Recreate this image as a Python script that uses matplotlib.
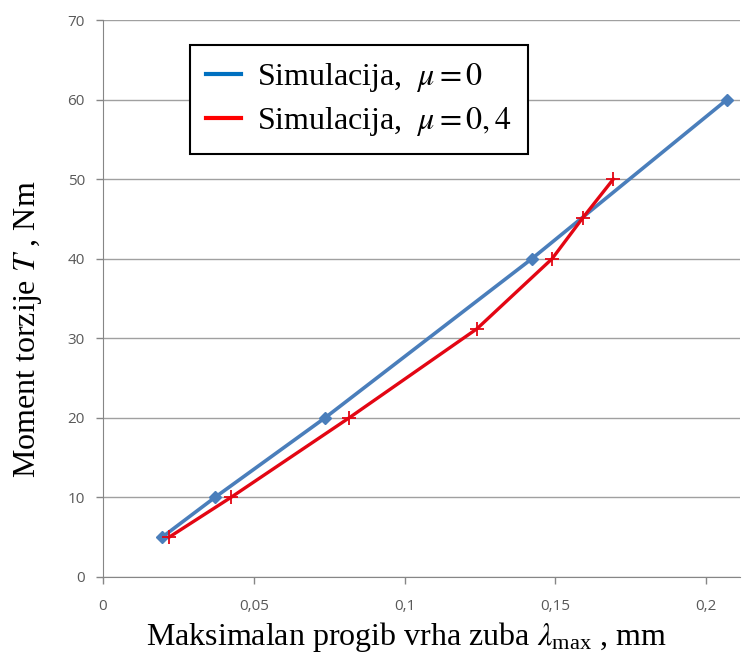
import matplotlib.pyplot as plt
from matplotlib.lines import Line2D

plt.rcParams['mathtext.fontset'] = 'stix'

# Simulacija, mu = 0
x_mu0 = [0.0196, 0.0371, 0.0736, 0.1422, 0.2069]
t_mu0 = [5, 10, 20, 40, 60]

# Simulacija, mu = 0,4
x_mu04 = [0.0219, 0.0424, 0.0816, 0.1240, 0.1489, 0.1590, 0.1692]
t_mu04 = [5, 10, 20, 31.2, 40, 45.1, 50]

x_ticks = [0, 0.05, 0.1, 0.15, 0.2]
x_labels = ["0", "0,05", "0,1", "0,15", "0,2"]
y_ticks = [0, 10, 20, 30, 40, 50, 60, 70]

fig = plt.figure(figsize=(7.44, 6.54), dpi=100)
ax = fig.add_axes([103 / 744, 1 - 577 / 654, (740 - 103) / 744, (577 - 20) / 654])

ax.plot(x_mu0, t_mu0, color="#4A7EBB", linewidth=2.6, marker="D", markersize=6.5, zorder=3)
ax.plot(x_mu04, t_mu04, color="#E30613", linewidth=2.4, marker="+", markersize=10,
        markeredgewidth=1.3, zorder=4)

ax.set_xlim(0, 0.2112)
ax.set_ylim(0, 70)
ax.set_xticks(x_ticks)
ax.set_xticklabels(x_labels)
ax.set_yticks(y_ticks)
ax.yaxis.grid(True, color="#A0A0A0", linewidth=1)
ax.set_axisbelow(True)

for s in ["top", "right"]:
    ax.spines[s].set_visible(False)
for s in ["left", "bottom"]:
    ax.spines[s].set_color("#868686")
ax.tick_params(axis="both", colors="#868686", labelcolor="#595959", labelsize=11,
               length=5, width=1)
ax.tick_params(axis="x", pad=11)
ax.tick_params(axis="y", pad=8)
for lab in ax.get_xticklabels() + ax.get_yticklabels():
    lab.set_family("Open Sans")

ax.set_xlabel(r"Maksimalan progib vrha zuba $\lambda_{\mathregular{max}}$ , mm",
              family="Liberation Serif", fontsize=23)
ax.set_ylabel(r"Moment torzije $T$ , Nm", family="Liberation Serif", fontsize=23)
ax.xaxis.set_label_coords(0.477, -0.078)
ax.yaxis.set_label_coords(-0.093, 0.445)

handles = [Line2D([], [], color="#0070C0", linewidth=3),
           Line2D([], [], color="#FF0000", linewidth=3)]
leg = ax.legend(handles, [r"Simulacija,  $\mu = 0$", r"Simulacija,  $\mu = 0,4$"],
                loc="upper left", bbox_to_anchor=((190 - 103) / 637, 1 - (45 - 20) / 557),
                prop={"family": "Liberation Serif", "size": 23},
                frameon=True, fancybox=False, edgecolor="black", framealpha=1,
                handlelength=1.1, handletextpad=0.5, borderpad=0.5, labelspacing=0.35,
                borderaxespad=0)
leg.get_frame().set_linewidth(1.5)

fig.savefig("out.png", dpi=100)
